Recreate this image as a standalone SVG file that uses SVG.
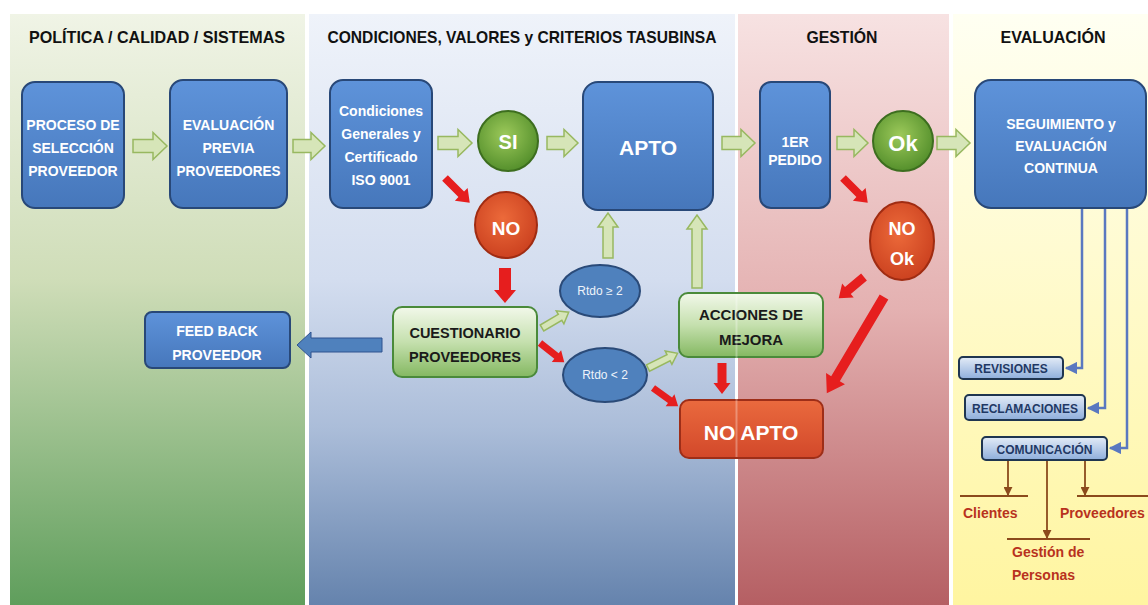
<svg xmlns="http://www.w3.org/2000/svg" width="1148" height="605" viewBox="0 0 1148 605">
<defs>
<linearGradient id="gGreenPanel" x1="0" y1="0" x2="0" y2="1"><stop offset="0" stop-color="#f0f4e6"/><stop offset="0.45" stop-color="#cfddb8"/><stop offset="1" stop-color="#5f9e5c"/></linearGradient>
<linearGradient id="gBluePanel" x1="0" y1="0" x2="0" y2="1"><stop offset="0" stop-color="#eff3fa"/><stop offset="0.45" stop-color="#d3ddef"/><stop offset="0.7" stop-color="#abbdd9"/><stop offset="1" stop-color="#6583ad"/></linearGradient>
<linearGradient id="gPinkPanel" x1="0" y1="0" x2="0" y2="1"><stop offset="0" stop-color="#f7e2e2"/><stop offset="0.5" stop-color="#e4b1b1"/><stop offset="1" stop-color="#b55f63"/></linearGradient>
<linearGradient id="gYellowPanel" x1="0" y1="0" x2="0" y2="1"><stop offset="0" stop-color="#fffff2"/><stop offset="1" stop-color="#fff5a0"/></linearGradient>
<linearGradient id="gBlueBox" x1="0" y1="0" x2="0" y2="1"><stop offset="0" stop-color="#5e93da"/><stop offset="1" stop-color="#4677bb"/></linearGradient>
<linearGradient id="gGreenBox" x1="0" y1="0" x2="0" y2="1"><stop offset="0" stop-color="#f2f8ea"/><stop offset="0.5" stop-color="#c5e0ae"/><stop offset="1" stop-color="#84b861"/></linearGradient>
<linearGradient id="gSmallBox" x1="0" y1="0" x2="0" y2="1"><stop offset="0" stop-color="#e4ecf7"/><stop offset="1" stop-color="#8eaedb"/></linearGradient>
<linearGradient id="gRedBox" x1="0" y1="0" x2="0" y2="1"><stop offset="0" stop-color="#ea6a3e"/><stop offset="1" stop-color="#d2482a"/></linearGradient>
<radialGradient id="gGreenCirc" cx="0.45" cy="0.4" r="0.6"><stop offset="0" stop-color="#9cc95a"/><stop offset="1" stop-color="#55902c"/></radialGradient>
<radialGradient id="gRedCirc" cx="0.45" cy="0.4" r="0.6"><stop offset="0" stop-color="#ec6a3a"/><stop offset="1" stop-color="#cc4220"/></radialGradient>
<marker id="mBlue" viewBox="0 0 10 10" refX="9" refY="5" markerWidth="5" markerHeight="5" orient="auto"><path d="M0,0 L10,5 L0,10 z" fill="#5a78c0"/></marker>
<marker id="mBrown" viewBox="0 0 10 10" refX="9" refY="5" markerWidth="5" markerHeight="5" orient="auto"><path d="M0,0 L10,5 L0,10 z" fill="#8b4a1c"/></marker>
<style>
.t{font-family:"Liberation Sans",Arial,sans-serif;font-weight:bold;text-anchor:middle}
.hdr{font-size:17px;fill:#111}
.w{fill:#fff}
.dk{fill:#1a1a1a}
.nb{font-size:14px}
.rt{font-family:"Liberation Sans",Arial,sans-serif;font-weight:normal;text-anchor:middle;font-size:12px;fill:#eef3fa}
.blue{fill:url(#gBlueBox);stroke:#284878;stroke-width:2}
.gbox{fill:url(#gGreenBox);stroke:#4a8a3a;stroke-width:2}
.sbox{fill:url(#gSmallBox);stroke:#1f3550;stroke-width:2}
.sb{font-size:12px;fill:#1f3864}
.garr{fill:#d6e5b8;stroke:#98b860;stroke-width:1.5}
.rarr{fill:#e61e1e}
.bline{fill:none;stroke:#5a78c0;stroke-width:2.5}
.brl{fill:none;stroke:#8b4a1c;stroke-width:1.8}
.lbl{font-family:"Liberation Sans",Arial,sans-serif;font-weight:bold;font-size:14px;fill:#b8321e}
</style>
</defs>

<g id="panels">
<rect x="10" y="14" width="295" height="591" fill="url(#gGreenPanel)"/>
<rect x="309" y="14" width="426" height="591" fill="url(#gBluePanel)"/>
<rect x="738" y="14" width="211" height="591" fill="url(#gPinkPanel)"/>
<rect x="953" y="14" width="195" height="591" fill="url(#gYellowPanel)"/>
<text class="t hdr" x="157" y="43" textLength="256" lengthAdjust="spacingAndGlyphs">POLÍTICA / CALIDAD / SISTEMAS</text>
<text class="t hdr" x="522" y="43" textLength="389" lengthAdjust="spacingAndGlyphs">CONDICIONES, VALORES y CRITERIOS TASUBINSA</text>
<text class="t hdr" x="842" y="43" textLength="71" lengthAdjust="spacingAndGlyphs">GESTIÓN</text>
<text class="t hdr" x="1053" y="43" textLength="105" lengthAdjust="spacingAndGlyphs">EVALUACIÓN</text>
</g>

<g id="connectors">
<path class="garr" d="M0,-6.5 L20,-6.5 L20,-13.5 L34,0 L20,13.5 L20,6.5 L0,6.5 Z" transform="translate(133,146)"/>
<path class="garr" d="M0,-6.5 L18,-6.5 L18,-13.5 L32,0 L18,13.5 L18,6.5 L0,6.5 Z" transform="translate(293,146)"/>
<path class="garr" d="M0,-6.5 L20,-6.5 L20,-13.5 L34,0 L20,13.5 L20,6.5 L0,6.5 Z" transform="translate(438,143)"/>
<path class="garr" d="M0,-6.5 L17,-6.5 L17,-13.5 L31,0 L17,13.5 L17,6.5 L0,6.5 Z" transform="translate(547,143)"/>
<path class="garr" d="M0,-6.5 L19,-6.5 L19,-13.5 L33,0 L19,13.5 L19,6.5 L0,6.5 Z" transform="translate(722,143)"/>
<path class="garr" d="M0,-6.5 L17,-6.5 L17,-13.5 L31,0 L17,13.5 L17,6.5 L0,6.5 Z" transform="translate(837,143)"/>
<path class="garr" d="M0,-6.5 L19,-6.5 L19,-13.5 L33,0 L19,13.5 L19,6.5 L0,6.5 Z" transform="translate(937,143)"/>
<path class="garr" d="M0,-5 L31,-5 L31,-10 L45,0 L31,10 L31,5 L0,5 Z" transform="translate(608,258) rotate(-90)"/>
<path class="garr" d="M0,-5 L59,-5 L59,-10 L73,0 L59,10 L59,5 L0,5 Z" transform="translate(697,288) rotate(-90)"/>
<path class="garr" d="M0,-3.5 L21,-3.5 L21,-7.5 L31,0 L21,7.5 L21,3.5 L0,3.5 Z" transform="translate(542,328) rotate(-30.6)"/>
<path class="garr" d="M0,-3.5 L23,-3.5 L23,-7.5 L33,0 L23,7.5 L23,3.5 L0,3.5 Z" transform="translate(648,368) rotate(-26.6)"/>
<path class="rarr" d="M0,-4 L23,-4 L23,-9 L35,0 L23,9 L23,4 L0,4 Z" transform="translate(445,178) rotate(45)"/>
<path class="rarr" d="M0,-6 L22,-6 L22,-11 L35,0 L22,11 L22,6 L0,6 Z" transform="translate(505,268) rotate(90)"/>
<path class="rarr" d="M0,-3.5 L21,-3.5 L21,-7.5 L31,0 L21,7.5 L21,3.5 L0,3.5 Z" transform="translate(540,343) rotate(38.4)"/>
<path class="rarr" d="M0,-3.5 L21,-3.5 L21,-7.5 L31,0 L21,7.5 L21,3.5 L0,3.5 Z" transform="translate(653,388) rotate(35.8)"/>
<path class="rarr" d="M0,-4.5 L20,-4.5 L20,-8.5 L31,0 L20,8.5 L20,4.5 L0,4.5 Z" transform="translate(722,363) rotate(90)"/>
<path class="rarr" d="M0,-4 L23,-4 L23,-9 L35,0 L23,9 L23,4 L0,4 Z" transform="translate(843,178) rotate(45)"/>
<path class="rarr" d="M0,-4.5 L21,-4.5 L21,-9 L33,0 L21,9 L21,4.5 L0,4.5 Z" transform="translate(864,277) rotate(140)"/>
<path class="rarr" d="M0,-5 L95,-5 L95,-11 L112,0 L95,11 L95,5 L0,5 Z" transform="translate(884,297) rotate(120.7)"/>
<path d="M0,-7 L71,-7 L71,-13 L85,0 L71,13 L71,7 L0,7 Z" transform="translate(382,345) rotate(180)" fill="#4f81bd" stroke="#2f528f" stroke-width="1"/>
<path class="bline" d="M1082,208 V368 H1066" marker-end="url(#mBlue)"/>
<path class="bline" d="M1105,208 V408 H1088" marker-end="url(#mBlue)"/>
<path class="bline" d="M1127,208 V448 H1110" marker-end="url(#mBlue)"/>
<path class="brl" d="M1008,461 V495" marker-end="url(#mBrown)"/>
<path class="brl" d="M960,496 H1028"/>
<path class="brl" d="M1047,461 V538" marker-end="url(#mBrown)"/>
<path class="brl" d="M1007,539 H1090"/>
<path class="brl" d="M1085,461 V495" marker-end="url(#mBrown)"/>
<path class="brl" d="M1077,496 H1148"/>
</g>

<g id="n-proceso">
<rect class="blue" x="22" y="82" width="102" height="126" rx="13"/>
<text class="t w nb" x="73" y="130">PROCESO DE</text>
<text class="t w nb" x="73" y="153">SELECCIÓN</text>
<text class="t w nb" x="73" y="176">PROVEEDOR</text>
</g>
<g id="n-evaluacion-previa">
<rect class="blue" x="170" y="80" width="117" height="128" rx="13"/>
<text class="t w nb" x="228.5" y="130">EVALUACIÓN</text>
<text class="t w nb" x="228.5" y="153">PREVIA</text>
<text class="t w nb" x="228.5" y="176" textLength="104" lengthAdjust="spacingAndGlyphs">PROVEEDORES</text>
</g>
<g id="n-condiciones">
<rect class="blue" x="330" y="80" width="102" height="128" rx="13"/>
<text class="t w nb" x="381" y="116">Condiciones</text>
<text class="t w nb" x="381" y="139">Generales y</text>
<text class="t w nb" x="381" y="162">Certificado</text>
<text class="t w nb" x="381" y="185">ISO 9001</text>
</g>
<g id="n-si">
<circle cx="508" cy="141" r="30" fill="url(#gGreenCirc)" stroke="#3d6e1f" stroke-width="2"/>
<text class="t w" x="508" y="149" font-size="20">SI</text>
</g>
<g id="n-no">
<ellipse cx="506" cy="225" rx="31" ry="33" fill="url(#gRedCirc)" stroke="#a02c12" stroke-width="2"/>
<text class="t w" x="506" y="235" font-size="19">NO</text>
</g>
<g id="n-apto">
<rect class="blue" x="583" y="82" width="130" height="128" rx="15"/>
<text class="t w" x="648" y="155" font-size="21">APTO</text>
</g>
<g id="n-pedido">
<rect class="blue" x="760" y="82" width="70" height="126" rx="11"/>
<text class="t w nb" x="795" y="147">1ER</text>
<text class="t w nb" x="795" y="165">PEDIDO</text>
</g>
<g id="n-ok">
<circle cx="903" cy="141" r="30" fill="url(#gGreenCirc)" stroke="#3d6e1f" stroke-width="2"/>
<text class="t w" x="903" y="151" font-size="22">Ok</text>
</g>
<g id="n-nook">
<ellipse cx="902" cy="241" rx="32" ry="39" fill="url(#gRedCirc)" stroke="#a02c12" stroke-width="2"/>
<text class="t w" x="902" y="235" font-size="18">NO</text>
<text class="t w" x="902" y="265" font-size="18">Ok</text>
</g>
<g id="n-seguimiento">
<rect class="blue" x="975" y="80" width="171" height="128" rx="16"/>
<text class="t w nb" x="1061" y="129">SEGUIMIENTO y</text>
<text class="t w nb" x="1061" y="151">EVALUACIÓN</text>
<text class="t w nb" x="1061" y="173">CONTINUA</text>
</g>
<g id="n-feedback">
<rect class="blue" x="145" y="312" width="145" height="56" rx="7"/>
<text class="t w" x="217" y="336" font-size="14">FEED BACK</text>
<text class="t w" x="217" y="360" font-size="14">PROVEEDOR</text>
</g>
<g id="n-cuestionario">
<rect class="gbox" x="393" y="307" width="144" height="70" rx="9"/>
<text class="t dk" x="465" y="338" font-size="14.5">CUESTIONARIO</text>
<text class="t dk" x="465" y="362" font-size="14.5">PROVEEDORES</text>
</g>
<g id="n-rtdo-ge2">
<ellipse cx="600" cy="291" rx="40" ry="26" fill="#4f81bd" stroke="#2a4a78" stroke-width="2"/>
<text class="rt" x="600" y="295">Rtdo ≥ 2</text>
</g>
<g id="n-rtdo-lt2">
<ellipse cx="605" cy="375" rx="42" ry="27" fill="#4f81bd" stroke="#2a4a78" stroke-width="2"/>
<text class="rt" x="605" y="379">Rtdo &lt; 2</text>
</g>
<g id="n-acciones">
<rect class="gbox" x="679" y="293" width="144" height="64" rx="9"/>
<text class="t dk" x="751" y="320" font-size="15">ACCIONES DE</text>
<text class="t dk" x="751" y="345" font-size="15">MEJORA</text>
</g>
<g id="n-noapto">
<rect x="680" y="400" width="143" height="58" rx="9" fill="url(#gRedBox)" stroke="#9e2e18" stroke-width="2"/>
<text class="t w" x="751" y="440" font-size="21">NO APTO</text>
</g>
<line x1="736.5" y1="294" x2="736.5" y2="457" stroke="#ffffff" stroke-opacity="0.3" stroke-width="2"/>
<g id="n-revisiones">
<rect class="sbox" x="959" y="357" width="104" height="22" rx="4"/>
<text class="t sb" x="1011" y="373">REVISIONES</text>
</g>
<g id="n-reclamaciones">
<rect class="sbox" x="965" y="395" width="120" height="25" rx="4"/>
<text class="t sb" x="1025" y="413" font-size="12.5">RECLAMACIONES</text>
</g>
<g id="n-comunicacion">
<rect class="sbox" x="982" y="437" width="125" height="23" rx="4"/>
<text class="t sb" x="1044.5" y="454" font-size="13">COMUNICACIÓN</text>
</g>
<g id="labels">
<text class="lbl" x="963" y="518">Clientes</text>
<text class="lbl" x="1060" y="518" font-size="12">Proveedores</text>
<text class="lbl" x="1012" y="557">Gestión de</text>
<text class="lbl" x="1012" y="580">Personas</text>
</g>
</svg>
